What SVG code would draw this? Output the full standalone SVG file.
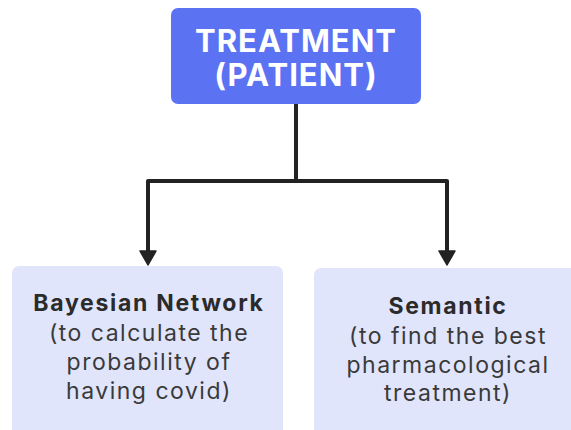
<svg xmlns="http://www.w3.org/2000/svg" width="571" height="430" viewBox="0 0 571 430">
  <style>
    .root { fill: #5B72F3; }
    .leaf { fill: #E0E5FC; }
    .title { font-family: Inter, "Noto Sans", sans-serif; font-weight: 700; font-size: 31px; fill: #FFFFFF; text-anchor: middle; letter-spacing: 1px; }
    .head { font-family: Inter, "Noto Sans", sans-serif; font-weight: 700; font-size: 23px; fill: #2B2B2B; text-anchor: middle; letter-spacing: 1.7px; }
    .body { font-family: Inter, "Noto Sans", sans-serif; font-weight: 400; font-size: 23px; fill: #3A3A3A; text-anchor: middle; letter-spacing: 1.5px; }
    .wire { fill: none; stroke: #222222; stroke-width: 4; stroke-linejoin: round; }
    .tip { fill: #222222; stroke: #222222; stroke-width: 1.5; stroke-linejoin: round; }
  </style>

  <g id="connectors">
    <path class="wire" d="M296,104 V181"/>
    <path class="wire" d="M148,252 V181 H447 V252"/>
    <path class="tip" d="M140,251 L156,251 L148,265 Z"/>
    <path class="tip" d="M439,251 L455,251 L447,265 Z"/>
  </g>

  <g id="node-treatment">
    <rect class="root" x="171" y="8" width="250" height="96" rx="7"/>
    <text class="title" x="296" y="52">TREATMENT</text>
    <text class="title" x="296" y="86">(PATIENT)</text>
  </g>

  <g id="node-bayesian">
    <rect class="leaf" x="12" y="266" width="271" height="180" rx="7"/>
    <text class="head" x="149" y="311">Bayesian Network</text>
    <text class="body" x="149" y="341">(to calculate the</text>
    <text class="body" x="149" y="370">probability of</text>
    <text class="body" x="149" y="399">having covid)</text>
  </g>

  <g id="node-semantic">
    <rect class="leaf" x="314" y="268" width="271" height="180" rx="7"/>
    <text class="head" x="448" y="314">Semantic</text>
    <text class="body" x="448" y="344">(to find the best</text>
    <text class="body" x="448" y="373">pharmacological</text>
    <text class="body" x="448" y="401">treatment)</text>
  </g>
</svg>
